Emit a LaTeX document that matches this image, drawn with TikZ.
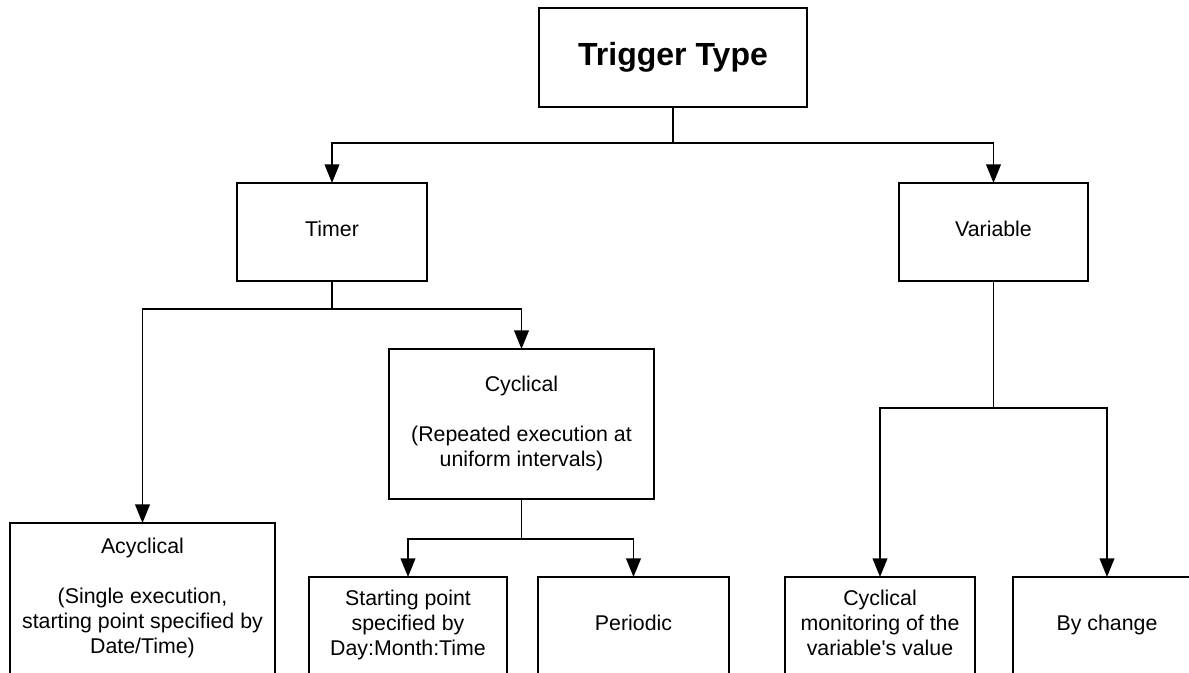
\documentclass[tikz,border=0pt]{standalone}
\usepackage{fontspec}
\setmainfont{Liberation Sans}
\usetikzlibrary{arrows.meta}
\begin{document}
\begin{tikzpicture}[x=0.75pt,y=-0.75pt,
  box/.style={draw,line width=1.4pt,inner sep=0pt,outer sep=0pt},
  txt/.style={inner sep=0pt,anchor=base,font=\fontsize{16}{18.75}\selectfont},
  conn/.style={line width=1.4pt},
  arr/.style={conn,-{Triangle[width=11pt,length=14pt]}}]
\useasboundingbox (0,0) rectangle (1189,672);
\clip (0,0) rectangle (1189,672);
% boxes
\node[box,minimum width=201pt,minimum height=74.25pt] (top) at (673,57.5) {};
\node[box,minimum width=142.5pt,minimum height=73.5pt] (timer) at (332,232) {};
\node[box,minimum width=141.75pt,minimum height=73.5pt] (var) at (993.5,232) {};
\node[box,minimum width=198.75pt,minimum height=112.5pt] (cyc) at (521.5,424) {};
\node[box,minimum width=198.75pt,minimum height=132.75pt] (acyc) at (142.5,611.5) {};
\node[box,minimum width=148.5pt,minimum height=92.25pt] (start) at (408,638.5) {};
\node[box,minimum width=143.25pt,minimum height=92.25pt] (per) at (633.5,638.5) {};
\node[box,minimum width=142.5pt,minimum height=92.25pt] (mon) at (880,638.5) {};
\node[box,minimum width=141pt,minimum height=92.25pt] (chg) at (1107,638.5) {};
% texts
\node[txt,font=\fontsize{24}{28}\selectfont\bfseries] (ttop) at (673,65) {Trigger Type};
\node[txt] (ttimer) at (332,236) {Timer};
\node[txt] (tvar) at (993.5,236) {Variable};
\node[txt] (tcyc) at (521.5,391) {\begin{tabular}[t]{@{}c@{}}Cyclical\\ \\ (Repeated execution at\\ uniform intervals)\end{tabular}};
\node[txt] (tacyc) at (142.5,553) {\begin{tabular}[t]{@{}c@{}}Acyclical\\ \\ (Single execution,\\ starting point specified by\\ Date/Time)\end{tabular}};
\node[txt] (tstart) at (408,605) {\begin{tabular}[t]{@{}c@{}}Starting point\\ specified by\\ Day:Month:Time\end{tabular}};
\node[txt] (tper) at (633.5,630) {Periodic};
\node[txt] (tmon) at (880,605) {\begin{tabular}[t]{@{}c@{}}Cyclical\\ monitoring of the\\ variable\textquotesingle s value\end{tabular}};
\node[txt] (tchg) at (1107,630) {By change};
% junctions
\coordinate (j1) at (673,143);
\coordinate (j2) at (332,309);
\coordinate (j3) at (521.5,539);
\coordinate (j4) at (993.5,408);
% connectors
\draw[conn] (top.south) -- (j1);
\draw[arr] (j1) -| (timer.north);
\draw[arr] (j1) -| (var.north);
\draw[conn] (timer.south) -- (j2);
\draw[arr] (j2) -| (acyc.north);
\draw[arr] (j2) -| (cyc.north);
\draw[conn] (cyc.south) -- (j3);
\draw[arr] (j3) -| (start.north);
\draw[arr] (j3) -| (per.north);
\draw[conn] (var.south) -- (j4);
\draw[arr] (j4) -| (mon.north);
\draw[arr] (j4) -| (chg.north);
\end{tikzpicture}
\end{document}
